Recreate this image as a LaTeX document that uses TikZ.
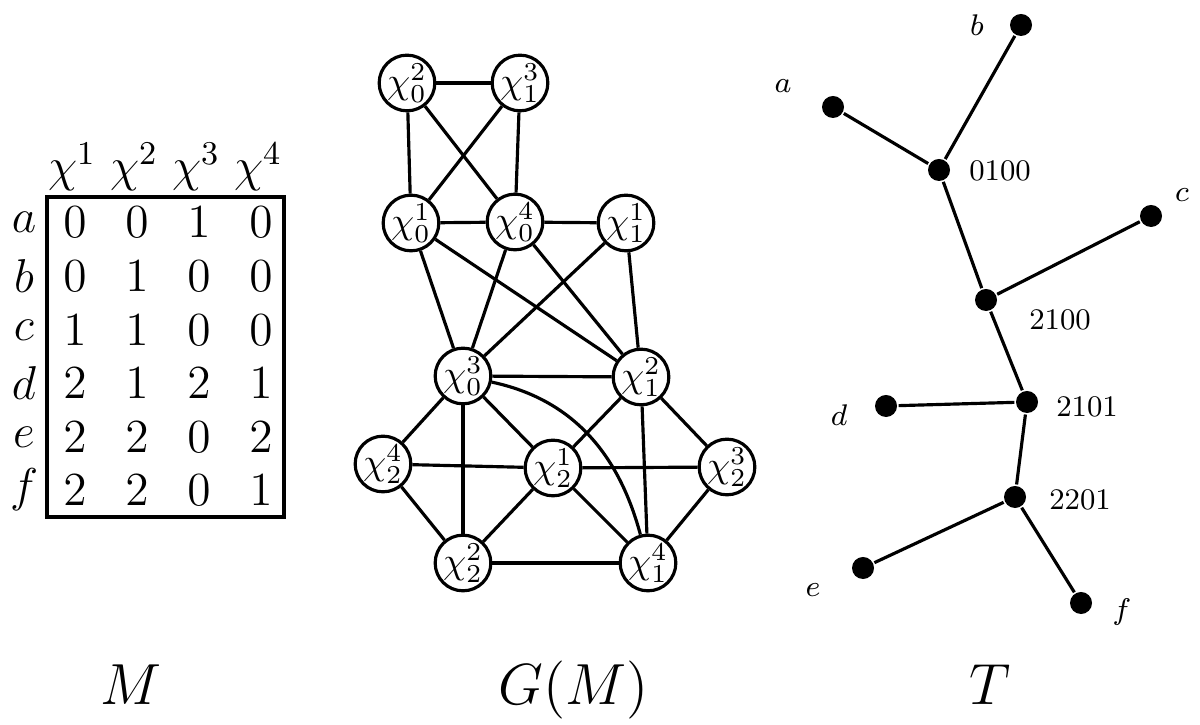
\RequirePackage{fix-cm}
\documentclass[tikz,border=0pt]{standalone}
\begin{document}
\begin{tikzpicture}[
      x=0.01cm, y=-0.01cm,
      line width=0.9pt,
      sommet/.style={
        draw,
        circle,
        inner sep=0pt,
        minimum size=0.55cm,
        font=\fontsize{10.5}{12}\selectfont
      },
      pastille/.style={
        fill,
        circle,
        inner sep=0pt,
        minimum size=0.22cm
      },
      etiq/.style={
        font=\fontsize{8.5}{10}\selectfont
      },
      case/.style={
        font=\fontsize{13.5}{16}\selectfont
      },
      titre/.style={
        anchor=base,
        font=\fontsize{16.5}{20}\selectfont
      }
    ]
    \useasboundingbox (0,0) rectangle (1200,725);

    % la matrice M
    \foreach \j in {1,...,4}
      \node[case] (h\j) at ({10+62*\j},167) {$\chi^{\j}$};
    \foreach \l/\y/\v in {a/222/{0,0,1,0}, b/276/{0,1,0,0}, c/330/{1,1,0,0},
                          d/383/{2,1,2,1}, e/437/{2,2,0,2}, f/490/{2,2,0,1}} {
      \node[case] (l\l) at (24,\y) {$\l$};
      \foreach \c [count=\j] in \v
        \node[case] (m\l\j) at ({13+62*\j},\y) {$\c$};
    }
    \draw (47,197) rectangle (284,517);

    % le graphe G(M)
    \node[sommet] (x02) at (407,83) {$\chi_0^2$};
    \node[sommet] (x13) at (520,83) {$\chi_1^3$};
    \node[sommet] (x01) at (411,223) {$\chi_0^1$};
    \node[sommet] (x04) at (515,222) {$\chi_0^4$};
    \node[sommet] (x11) at (626,223) {$\chi_1^1$};
    \node[sommet] (x03) at (463,376) {$\chi_0^3$};
    \node[sommet] (x12) at (641,377) {$\chi_1^2$};
    \node[sommet] (x24) at (383,464) {$\chi_2^4$};
    \node[sommet] (x21) at (553,468) {$\chi_2^1$};
    \node[sommet] (x23) at (727,467) {$\chi_2^3$};
    \node[sommet] (x22) at (463,563) {$\chi_2^2$};
    \node[sommet] (x14) at (648,563) {$\chi_1^4$};
    \foreach \u/\w in {x02/x13, x02/x01, x02/x04, x13/x01, x13/x04, x01/x04,
                       x04/x11, x01/x03, x01/x12, x04/x03, x04/x12, x11/x03,
                       x11/x12, x03/x12, x03/x24, x03/x22, x03/x21, x24/x21,
                       x24/x22, x21/x22, x21/x12, x21/x23, x21/x14, x22/x14,
                       x12/x14, x12/x23, x23/x14}
      \draw (\u) -- (\w);
    \draw (x03) to[out=-12, in=105] (x14);

    % l'arbre T
    \node[pastille] (fa) at (833,107) {};
    \node[pastille] (fb) at (1021,25) {};
    \node[pastille] (fc) at (1151,216) {};
    \node[pastille] (fd) at (886,406) {};
    \node[pastille] (fe) at (863,568) {};
    \node[pastille] (ff) at (1081,603) {};
    \node[pastille] (n0100) at (939,170) {};
    \node[pastille] (n2100) at (986,300) {};
    \node[pastille] (n2101) at (1027,402) {};
    \node[pastille] (n2201) at (1015,497) {};
    \draw (fa) -- (n0100);
    \draw (fb) -- (n0100);
    \draw (n0100) -- (n2100);
    \draw (fc) -- (n2100);
    \draw (n2100) -- (n2101);
    \draw (fd) -- (n2101);
    \draw (n2101) -- (n2201);
    \draw (fe) -- (n2201);
    \draw (ff) -- (n2201);
    \node[etiq] (ta) at (783,86) {$a$};
    \node[etiq] (tb) at (977,25) {$b$};
    \node[etiq] (tc) at (1182,195) {$c$};
    \node[etiq] (td) at (839,415) {$d$};
    \node[etiq] (te) at (813,590) {$e$};
    \node[etiq] (tf) at (1122,612) {$f$};
    \node[etiq] (t0100) at (1000,171) {0100};
    \node[etiq] (t2100) at (1060,320) {2100};
    \node[etiq] (t2101) at (1087,407) {2101};
    \node[etiq] (t2201) at (1080,500) {2201};

    % les titres
    \node[titre] (tM) at (131,705) {$M$};
    \node[titre] (tG) at (574,705) {$G(M)$};
    \node[titre] (tT) at (990,705) {$T$};

  \end{tikzpicture}
\end{document}
